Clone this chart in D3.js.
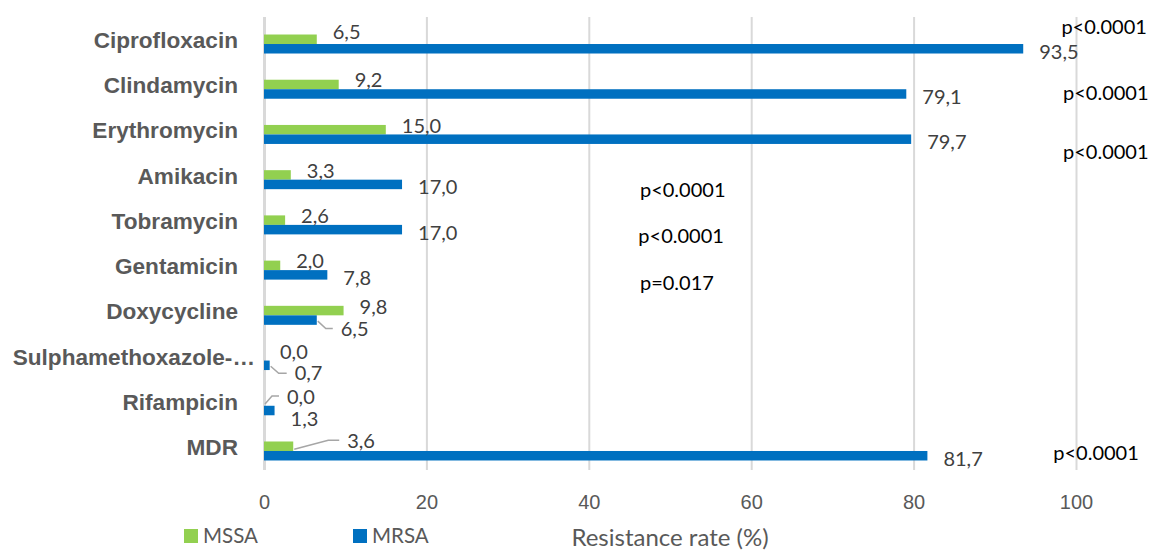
<!DOCTYPE html>
<html>
<head>
<meta charset="utf-8">
<script src="https://cdn.jsdelivr.net/npm/d3@7"></script>
<style>
  body { margin: 0; background: #fff; }
  svg { display: block; font-family: Lato, "Open Sans", sans-serif; }
  .cat text { font-weight: bold; font-size: 22.6px; fill: #595959; }
  .xaxis text { font-size: 20px; fill: #595959; }
  .val { font-size: 20px; fill: #404040; }
  .pnote { font-size: 20px; fill: #000; }
  .leader { fill: none; stroke: #a6a6a6; stroke-width: 1.5; }
</style>
</head>
<body>
<div id="chart"></div>
<script>
const categories = ["Ciprofloxacin", "Clindamycin", "Erythromycin", "Amikacin", "Tobramycin",
    "Gentamicin", "Doxycycline", "Sulphamethoxazole-…", "Rifampicin", "MDR"];
const seriesNames = ["MSSA", "MRSA"];
const mssa = [6.5, 9.2, 15.0, 3.3, 2.6, 2.0, 9.8, 0.0, 0.0, 3.6];
const mrsa = [93.5, 79.1, 79.7, 17.0, 17.0, 7.8, 6.5, 0.7, 1.3, 81.7];
const pValues = ["p<0.0001", "p<0.0001", "p<0.0001", "p<0.0001", "p<0.0001",
    "p=0.017", null, null, null, "p<0.0001"];
const xTicks = [0, 20, 40, 60, 80, 100];

// p-value boxes were placed by hand in the original: [x in % units, y offset from row centre]
const pNoteLayout = [[98.2, -17], [98.4, 4], [98.4, 18], [46.3, 10.5], [46.1, 11], [46.3, 13],
    null, null, null, [97.2, 2]];

// manual label moves (dx from bar end, dy from bar centre) and leader lines
const labelAdjust = {
    "Ciprofloxacin|MSSA": { dy: -7 },
    "Doxycycline|MRSA": { dx: 24, dy: 8.5, leader: true },
    "Sulphamethoxazole-…|MRSA": { dx: 25, dy: 8, leader: true },
    "Rifampicin|MSSA": { dx: 23, dy: -4, leader: true },
    "Rifampicin|MRSA": { dy: 8 },
    "MDR|MSSA": { dx: 54, dy: -5, leader: true }
};

const colors = { MSSA: "#92d050", MRSA: "#0070c0" };
const W = 1154, H = 551;
const plotTop = 17, plotBottom = 470;

const svg = d3.select("#chart").append("svg").attr("width", W).attr("height", H);

const x = d3.scaleLinear().domain([0, 100]).range([264, 1076]);
const y = d3.scaleBand().domain(categories).range([21.4, 473.6]);
const ys = d3.scaleBand().domain(seriesNames).range([0, y.bandwidth()]).paddingOuter(1.38);

// gridlines + tick labels
const xAxis = svg.append("g").attr("class", "xaxis")
    .attr("transform", `translate(0,${plotBottom})`)
    .call(d3.axisBottom(x).tickValues(xTicks).tickSize(-(plotBottom - plotTop)).tickFormat(d3.format("d")));
xAxis.select(".domain").remove();
xAxis.selectAll("line").attr("stroke", "#d9d9d9").attr("stroke-width", d => d === 0 ? 3 : 2);
xAxis.selectAll("text").attr("y", 32).attr("dy", "0.35em");

// category labels
const yAxis = svg.append("g").attr("class", "cat")
    .attr("transform", `translate(${x(0)},0)`)
    .call(d3.axisLeft(y).tickSize(0).tickPadding(26));
yAxis.select(".domain").remove();
yAxis.selectAll("text").attr("dy", 4)
    .attr("dx", d => d.endsWith("…") ? 17 : 0);

const rows = categories.map((c, i) => ({ cat: c, MSSA: mssa[i], MRSA: mrsa[i], p: pValues[i], note: pNoteLayout[i] }));
const bars = rows.flatMap(r => seriesNames.map(s => ({ cat: r.cat, series: s, value: r[s] })));

svg.append("g").selectAll("rect")
    .data(bars)
    .join("rect")
    .attr("x", x(0))
    .attr("y", d => y(d.cat) + ys(d.series))
    .attr("width", d => x(d.value) - x(0))
    .attr("height", ys.bandwidth())
    .attr("fill", d => colors[d.series]);

const fmt = v => v.toFixed(1).replace(".", ",");

bars.forEach(d => {
    const adj = labelAdjust[d.cat + "|" + d.series] || {};
    const barEnd = x(d.value);
    const barMid = y(d.cat) + ys(d.series) + ys.bandwidth() / 2;
    const lx = barEnd + (adj.dx !== undefined ? adj.dx : 16);
    const ly = barMid + (adj.dy !== undefined ? adj.dy : (d.series === "MSSA" ? -4 : 3));
    if (adj.leader) {
        const up = ly < barMid;
        const pts = [[barEnd + 1, barMid + (up ? 3 : 1)],
            [barEnd + (up ? Math.min(35, lx - barEnd - 15) : 9), ly + (up ? -1 : 0)],
            [lx - 8, ly + (up ? -1 : 0)]];
        svg.append("path").attr("class", "leader").attr("d", d3.line()(pts));
    }
    svg.append("text").attr("class", "val")
        .attr("x", lx).attr("y", ly).attr("dy", "0.35em")
        .text(fmt(d.value));
});

// p-values
svg.append("g").selectAll("text")
    .data(rows.filter(r => r.p))
    .join("text")
    .attr("class", "pnote")
    .attr("x", d => x(d.note[0]))
    .attr("y", d => y(d.cat) + y.bandwidth() / 2 + d.note[1])
    .attr("dy", "0.35em")
    .text(d => d.p);

// legend
const legend = svg.append("g").selectAll("g")
    .data(seriesNames)
    .join("g")
    .attr("transform", (d, i) => `translate(${184 + i * 169},529)`);
legend.append("rect").attr("width", 14).attr("height", 14).attr("fill", d => colors[d]);
legend.append("text").attr("x", 19).attr("y", 7).attr("dy", "0.35em")
    .style("font-size", "20.5px").attr("fill", "#595959").text(d => d);

// axis title
svg.append("text")
    .attr("x", (x(0) + x(100)) / 2).attr("y", 538).attr("dy", "0.35em")
    .attr("text-anchor", "middle")
    .style("font-size", "24px").attr("fill", "#595959")
    .text("Resistance rate (%)");
</script>
</body>
</html>
